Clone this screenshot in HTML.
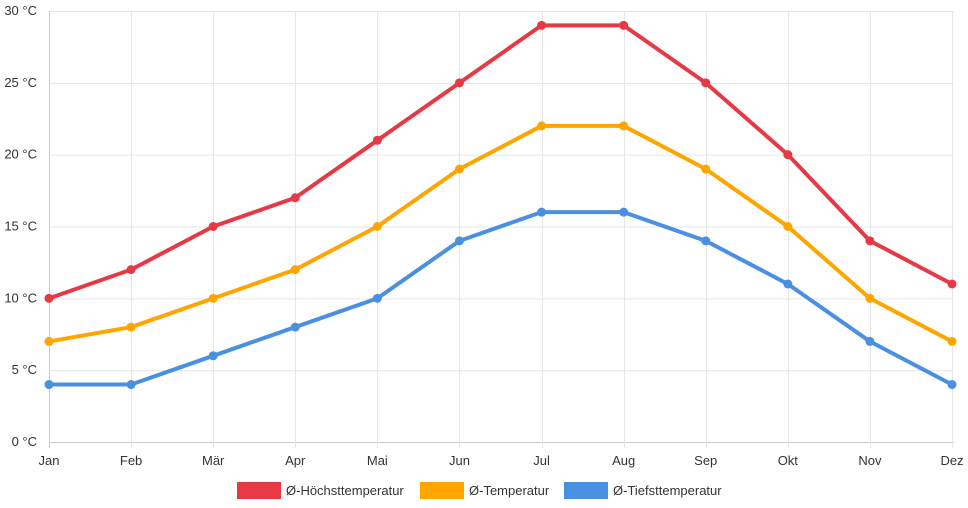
<!DOCTYPE html>
<html><head><meta charset="utf-8"><style>
body{margin:0;background:#fff;font-family:"Liberation Sans",sans-serif}
svg{display:block}
</style></head><body>
<svg id="chart" width="968" height="508" xmlns="http://www.w3.org/2000/svg">
<g id="grid"></g>
<g id="axes"></g>
<g id="series"></g>
<g id="legend"></g>
</svg>
<script>
const months=["Jan","Feb","Mär","Apr","Mai","Jun","Jul","Aug","Sep","Okt","Nov","Dez"];
const highs=[10,12,15,17,21,25,29,29,25,20,14,11];
const means=[7,8,10,12,15,19,22,22,19,15,10,7];
const lows=[4,4,6,8,10,14,16,16,14,11,7,4];
const yTicks=[0,5,10,15,20,25,30];
const seriesNames=["Ø-Höchsttemperatur","Ø-Temperatur","Ø-Tiefsttemperatur"];
const NS="http://www.w3.org/2000/svg";
const x0=49,x1=952,y0=442,y1=11;
const xs=i=>x0+(x1-x0)*i/(months.length-1);
const ys=v=>y0-(y0-y1)*v/30;
function mk(t,a,p){const e=document.createElementNS(NS,t);for(const k in a)e.setAttribute(k,a[k]);p.appendChild(e);return e;}
const grid=document.getElementById('grid'),axes=document.getElementById('axes'),ser=document.getElementById('series'),leg=document.getElementById('legend');
yTicks.forEach(v=>{
 const l=mk('line',{x1:x0,x2:x1+2,y1:ys(v)+.5,y2:ys(v)+.5,stroke:v===0?'#ccc':'#e6e6e6','stroke-width':1},grid);
 
 
 const t=mk('text',{x:37,y:ys(v)+4,'text-anchor':'end','font-size':13,fill:'#333'},axes);
 t.textContent=v+' °C';
 
 
});
months.forEach((m,i)=>{
 const l=mk('line',{x1:Math.round(xs(i))+.5,x2:Math.round(xs(i))+.5,y1:y1,y2:y0+6,stroke:i===0?'#ccc':'#e6e6e6','stroke-width':1},grid);
 
 
 const t=mk('text',{x:xs(i),y:465,'text-anchor':'middle','font-size':13,fill:'#333'},axes);
 t.textContent=m;
 
 
});
const data=[highs,means,lows],colors=["#e63946","#ffa500","#4a90e2"];
data.forEach((d,s)=>{
 const p=mk('polyline',{points:d.map((v,i)=>xs(i)+','+ys(v)).join(' '),fill:'none',stroke:colors[s],'stroke-width':4,'stroke-linejoin':'round'},ser);
 
 
 d.forEach((v,i)=>{
  const c=mk('circle',{cx:xs(i),cy:ys(v),r:4.5,fill:colors[s]},ser);
  
  
 });
});
const legX=[237,420,564];
seriesNames.forEach((n,s)=>{
 const g=mk('g',{},leg);
 
 
 mk('rect',{x:legX[s],y:482,width:44,height:17,fill:colors[s]},g);
 const t=mk('text',{x:legX[s]+49,y:495,'font-size':13,fill:'#333'},g);
 t.textContent=n;
});
</script>
</body></html>
